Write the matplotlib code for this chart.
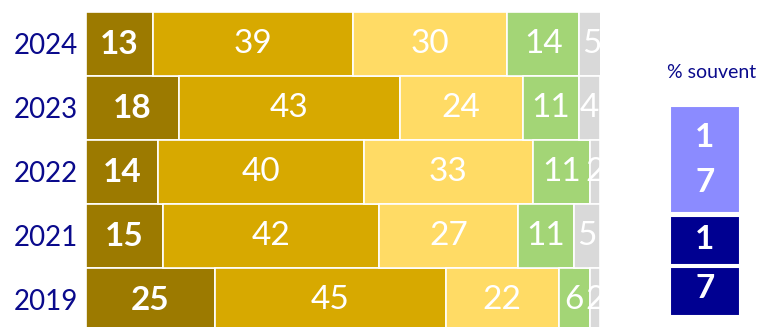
import numpy as np
import matplotlib.pyplot as plt

plt.rcParams['font.family'] = ['Lato', 'DejaVu Sans']

# donnees
annees = ['2024', '2023', '2022', '2021', '2019']
tres_souvent = [13, 18, 14, 15, 25]
assez_souvent = [39, 43, 40, 42, 45]
rarement = [30, 24, 33, 27, 22]
jamais = [14, 11, 11, 11, 6]
nsp = [5, 4, 2, 5, 2]

souvent_label = '% souvent'
souvent = [17, 17]

series = [tres_souvent, assez_souvent, rarement, jamais, nsp]
couleurs = ['#9C7A00', '#D7A900', '#FFDB65', '#A3D576', '#D9D9D9']
gras = [True, False, False, False, False]

fig = plt.figure(figsize=(7.62, 3.27), dpi=100)
ax = fig.add_axes([86/762, -5/327, 514/762, 320/327])

y = np.arange(len(annees))
gauche = np.zeros(len(annees))
for vals, c, b in zip(series, couleurs, gras):
    vals = np.array(vals)
    ax.barh(y, vals, left=gauche, height=1.0, color=c, edgecolor='white', linewidth=1.2)
    for yi, l, v in zip(y, gauche, vals):
        ax.text(l + v/2, yi, str(v), ha='center', va='center', color='white',
                fontsize=24, fontweight='bold' if b else 'normal', clip_on=True)
    gauche += vals

ax.set_xlim(0, 100)
ax.set_ylim(4.5, -0.5)
ax.set_yticks(y)
ax.set_yticklabels(annees, fontsize=20, color='#0A0A8C')
ax.tick_params(axis='y', length=0, pad=6)
ax.set_xticks([])
for s in ax.spines.values():
    s.set_visible(False)

# encadre "% souvent"
fig.text(712/762, 1 - 72/327, souvent_label, ha='center', va='center',
         fontsize=14, color='#0A0A8C')

ax2 = fig.add_axes([670/762, 1 - 316/327, 70/762, 210/327])
ax2.set_xlim(0, 1)
ax2.set_ylim(316, 106)
ax2.axis('off')
# boite claire (deux lignes), puis deux boites foncees
ax2.bar(0.5, 107, bottom=106, width=1, color='#8B8BFF', edgecolor='white', linewidth=1.5)
ax2.bar(0.5, 49, bottom=216, width=1, color='#000091', edgecolor='white', linewidth=1.5)
ax2.bar(0.5, 49, bottom=267, width=1, color='#000091', edgecolor='white', linewidth=1.5)
s1, s2 = str(souvent[0]), str(souvent[1])
ax2.text(0.5, 138, s1[0], ha='center', va='center', color='white', fontsize=24, fontweight='bold')
ax2.text(0.5, 183, s1[1], ha='center', va='center', color='white', fontsize=24, fontweight='bold')
ax2.text(0.5, 240, s2[0], ha='center', va='center', color='white', fontsize=24, fontweight='bold')
ax2.text(0.5, 289, s2[1], ha='center', va='center', color='white', fontsize=24, fontweight='bold')

fig.savefig('out.png', dpi=100)
